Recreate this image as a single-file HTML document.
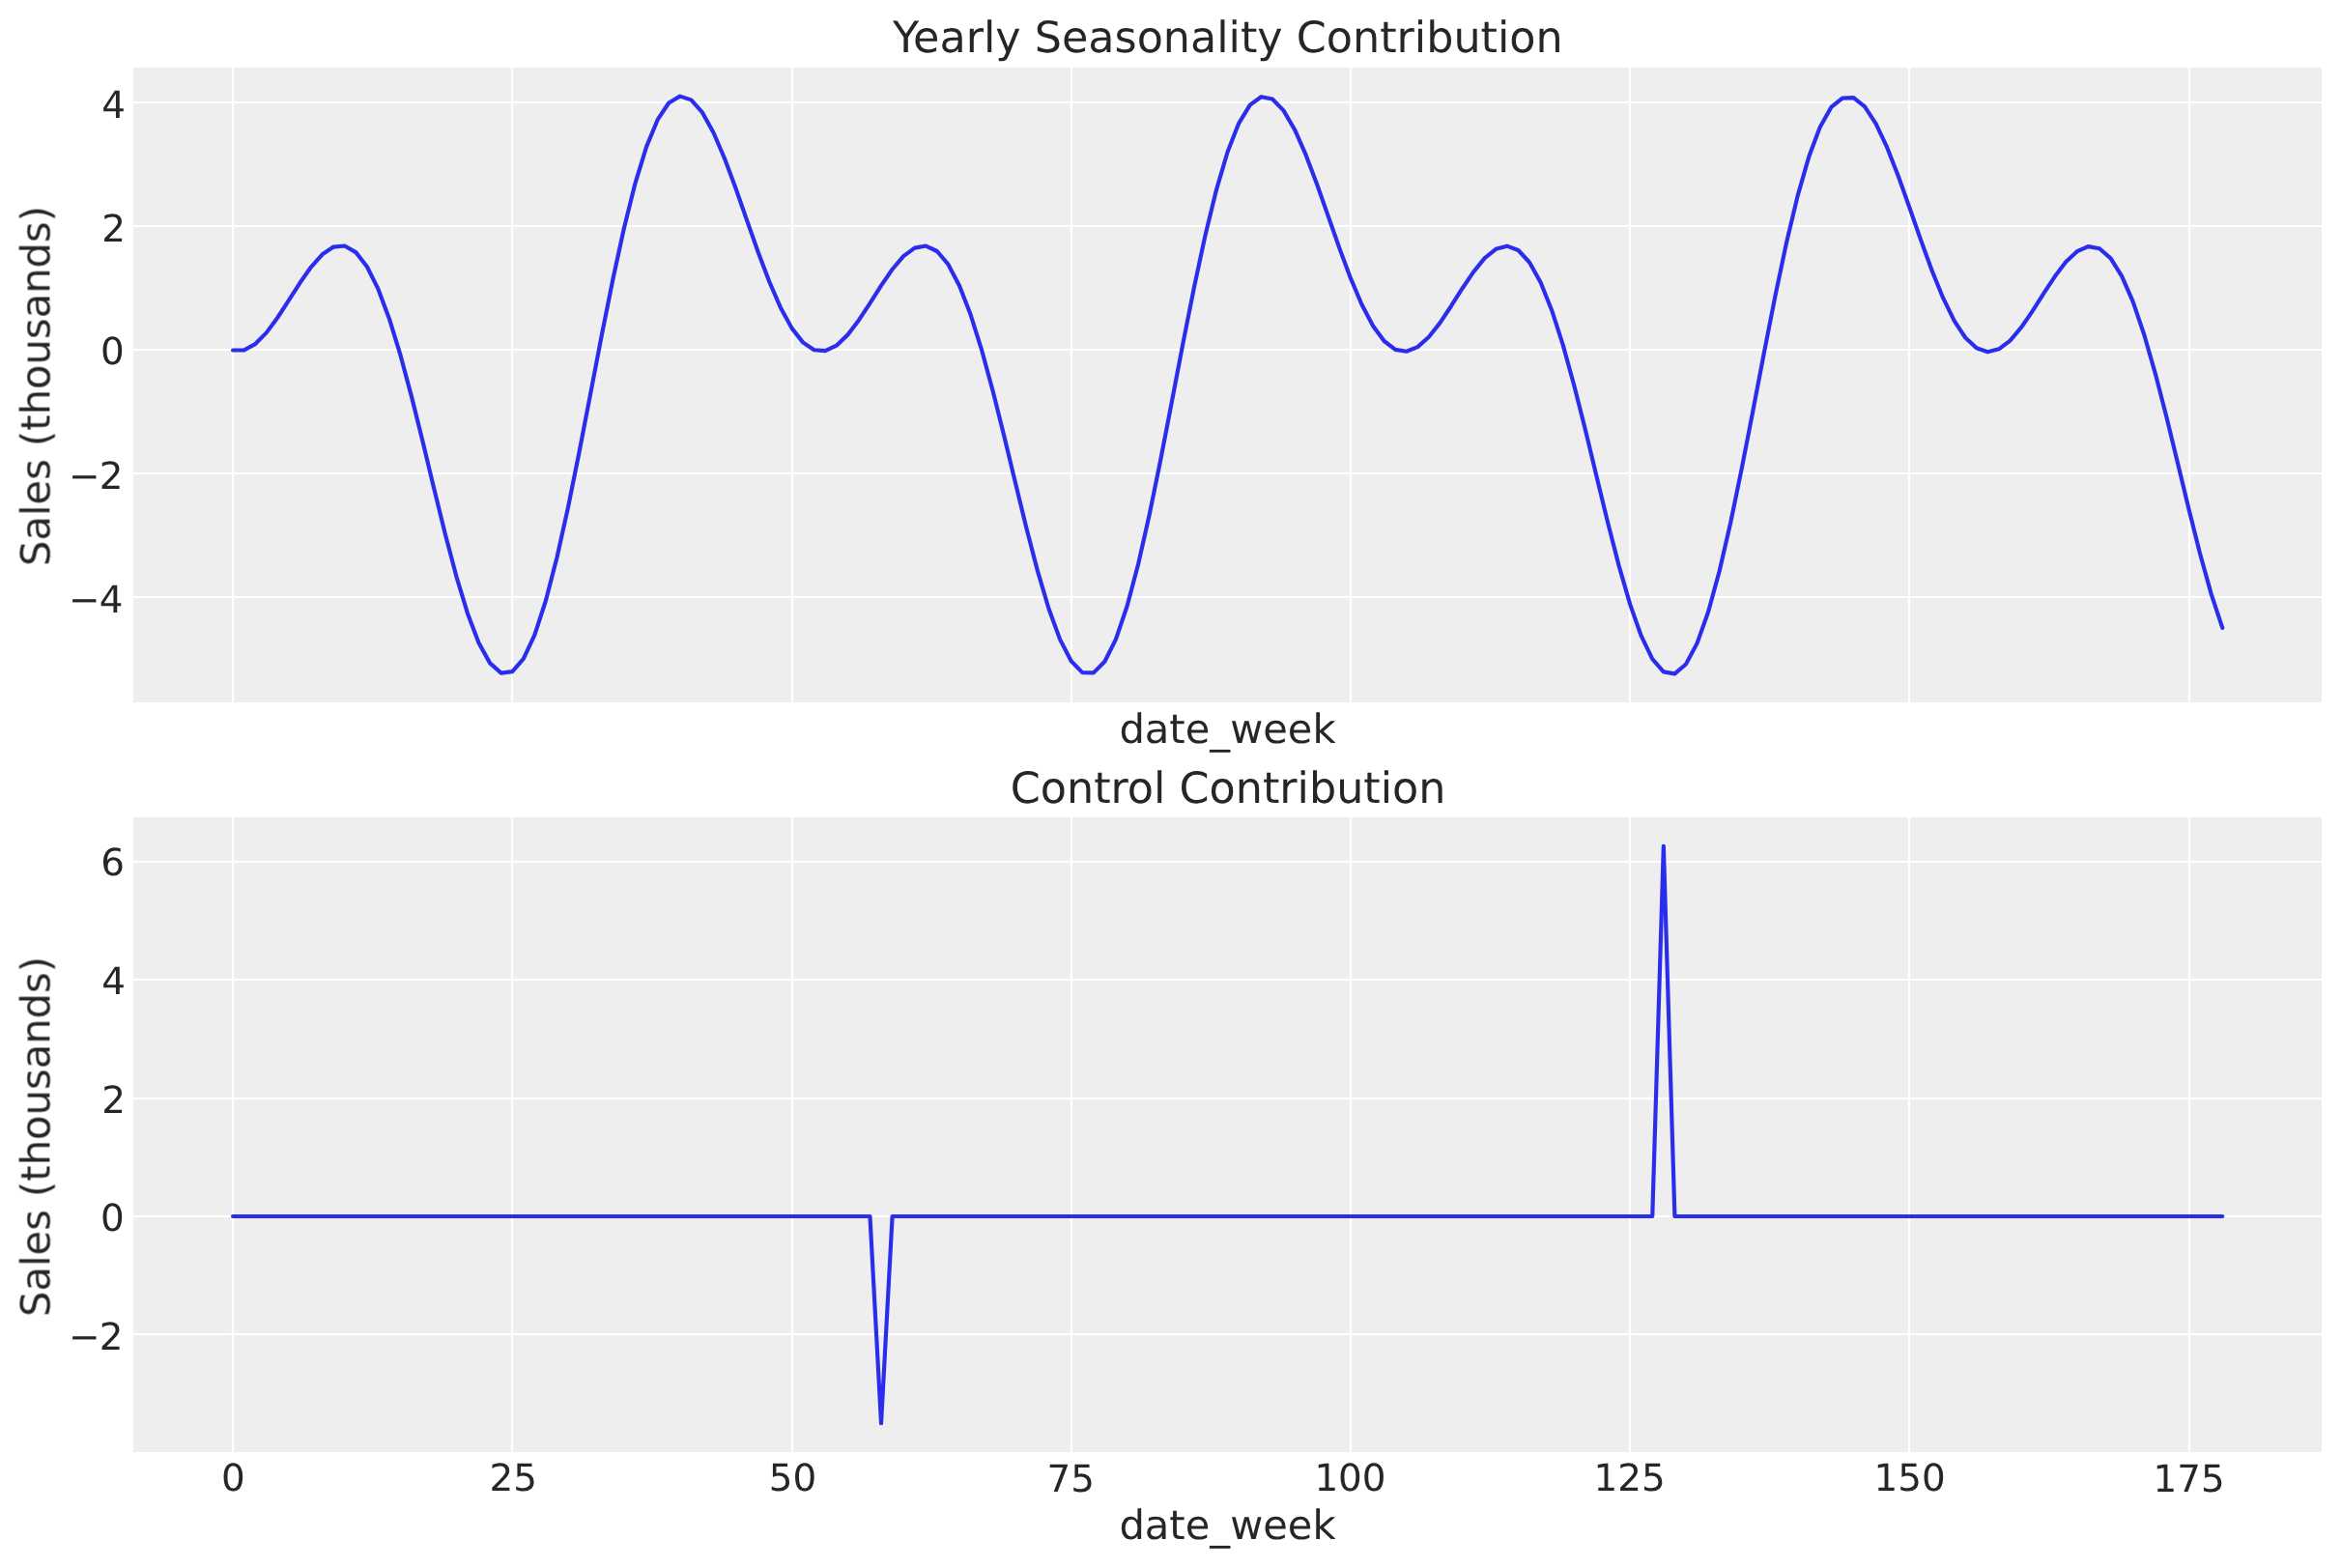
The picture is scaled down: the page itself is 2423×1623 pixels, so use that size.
<!DOCTYPE html>
<html lang="en"><head><meta charset="utf-8"><title>Yearly Seasonality and Control Contribution</title>
<style>html,body{margin:0;padding:0;background:#fff}body{width:2423px;height:1623px;overflow:hidden}svg{display:block;will-change:transform}text{font-family:"DejaVu Sans","Liberation Sans",sans-serif;fill:#262626;text-rendering:geometricPrecision}.t{font-size:44.44px;text-anchor:middle}.l{font-size:41.67px;text-anchor:middle}.k{font-size:38.89px}.y{text-anchor:end}.x{text-anchor:middle}.g{stroke:#fff;stroke-width:2.22;fill:none}.c{stroke:#2a2eec;stroke-width:4.17;fill:none;stroke-linecap:round;stroke-linejoin:round}</style></head><body>
<svg width="2423" height="1623" viewBox="0 0 2423 1623">
<rect width="2423" height="1623" fill="#fff"/>
<g id="ax1">
<rect x="138" y="70" width="2265" height="657" fill="#eeeeee"/>
<path class="g" d="M241 70V727M530 70V727M820 70V727M1109 70V727M1398 70V727M1687 70V727M1976 70V727M2266 70V727M138 106H2403M138 234H2403M138 362H2403M138 490H2403M138 618H2403"/>
<polyline class="c" points="241.04,362.5 252.61,362.45 264.18,356.07 275.75,344.37 287.31,328.75 298.88,310.93 310.45,292.78 322.02,276.27 333.59,263.3 345.16,255.57 356.73,254.51 368.3,261.14 379.86,276.01 391.43,299.18 403,330.16 414.57,367.97 426.14,411.14 437.71,457.83 449.28,505.89 460.85,553 472.41,596.78 483.98,634.94 495.55,665.4 507.12,686.38 518.69,696.58 530.26,695.16 541.83,681.87 553.39,657.03 564.96,621.52 576.53,576.75 588.1,524.59 599.67,467.24 611.24,407.15 622.81,346.91 634.38,289.03 645.94,235.9 657.51,189.61 669.08,151.88 680.65,123.94 692.22,106.49 703.79,99.62 715.36,103.39 726.93,116.41 738.49,137.3 750.06,164.28 761.63,195.35 773.2,228.37 784.77,261.19 796.34,291.79 807.91,318.4 819.47,339.61 831.04,354.39 842.61,362.25 854.18,363.17 865.75,357.64 877.32,346.62 888.89,331.46 900.46,313.84 912.02,295.62 923.59,278.76 935.16,265.17 946.73,256.6 958.3,254.51 969.87,260 981.44,273.67 993.01,295.67 1004.57,325.59 1016.14,362.5 1027.71,405.01 1039.28,451.33 1050.85,499.33 1062.42,546.72 1073.99,591.12 1085.56,630.22 1097.12,661.89 1108.69,684.32 1120.26,696.12 1131.83,696.39 1143.4,684.79 1154.97,661.56 1166.54,627.5 1178.1,583.95 1189.67,532.71 1201.24,475.96 1212.81,416.11 1224.38,355.73 1235.95,297.36 1247.52,243.41 1259.09,196.04 1270.65,157 1282.22,127.6 1293.79,108.63 1305.36,100.21 1316.93,102.56 1328.5,114.34 1340.07,134.2 1351.64,160.43 1363.2,191.05 1374.77,223.92 1386.34,256.89 1397.91,287.93 1409.48,315.21 1421.05,337.25 1432.62,353 1444.18,361.86 1455.75,363.75 1467.32,359.1 1478.89,348.79 1490.46,334.12 1502.03,316.74 1513.6,298.49 1525.17,281.31 1536.73,267.14 1548.3,257.76 1559.87,254.67 1571.44,259.02 1583.01,271.51 1594.58,292.33 1606.15,321.16 1617.72,357.15 1629.28,398.96 1640.85,444.86 1652.42,492.76 1663.99,540.38 1675.56,585.36 1687.13,625.35 1698.7,658.2 1710.26,682.04 1721.83,695.43 1733.4,697.38 1744.97,687.48 1756.54,665.87 1768.11,633.29 1779.68,590.99 1791.25,540.73 1802.81,484.62 1814.38,425.05 1825.95,364.59 1837.52,305.78 1849.09,251.07 1860.66,202.63 1872.23,162.31 1883.8,131.48 1895.36,110.99 1906.93,101.7 1918.5,101.18 1930.07,110.38 1941.64,128.1 1953.21,152.7 1964.78,182.28 1976.35,214.73 1987.91,247.89 1999.48,279.67 2011.05,308.19 2022.62,331.86 2034.19,349.49 2045.76,360.35 2057.33,364.21 2068.89,361.35 2080.46,352.54 2092.03,338.97 2103.6,322.18 2115.17,303.98 2126.74,286.3 2138.31,271.08 2149.88,260.16 2161.44,255.14 2173.01,257.27 2184.58,267.39 2196.15,285.85 2207.72,312.45 2219.29,346.51 2230.86,386.82 2242.43,431.75 2253.99,479.3 2265.56,527.24 2277.13,573.22 2288.7,614.86 2300.27,649.96"/>
</g>
<g id="ax2">
<rect x="138" y="846" width="2265" height="657" fill="#eeeeee"/>
<path class="g" d="M241 846V1503M530 846V1503M820 846V1503M1109 846V1503M1398 846V1503M1687 846V1503M1976 846V1503M2266 846V1503M138 892H2403M138 1014H2403M138 1137H2403M138 1259H2403M138 1381H2403"/>
<polyline class="c" points="241.04,1259.03 900.46,1259.03 912.02,1473.1 923.59,1259.03 1710.26,1259.03 1721.83,875.9 1733.4,1259.03 2300.27,1259.03"/>
</g>
<g id="labels" opacity="0.999">
<text id="title1" class="t" x="1270.8" y="54">Yearly Seasonality Contribution</text>
<text id="title2" class="t" x="1271.1" y="831">Control Contribution</text>
<text id="xlabel1" class="l" x="1270.5" y="769">date_week</text>
<text id="xlabel2" class="l" x="1270.5" y="1593">date_week</text>
<text id="ylabel1" class="l" transform="translate(51.4 399.55) rotate(-90)">Sales (thousands)</text>
<text id="ylabel2" class="l" transform="translate(51.4 1176.5) rotate(-90)">Sales (thousands)</text>
<text id="y1_0" class="k y" x="129.9" y="122">4</text>
<text id="y1_1" class="k y" x="129.9" y="250">2</text>
<text id="y1_2" class="k y" x="128.7" y="376.9">0</text>
<text id="y1_3" class="k y" x="127.45" y="506">−<tspan dx="-0.8">2</tspan></text>
<text id="y1_4" class="k y" x="127.4" y="634">−<tspan dx="-0.8">4</tspan></text>
<text id="y2_0" class="k y" x="129" y="905.8">6</text>
<text id="y2_1" class="k y" x="129.9" y="1029">4</text>
<text id="y2_2" class="k y" x="129.9" y="1152">2</text>
<text id="y2_3" class="k y" x="128.7" y="1273.8">0</text>
<text id="y2_4" class="k y" x="127.45" y="1397">−<tspan dx="-0.8">2</tspan></text>
<text id="x_0" class="k x" x="241.39" y="1543">0</text>
<text id="x_1" class="k x" x="531.22" y="1543">25</text>
<text id="x_2" class="k x" x="820.46" y="1543">50</text>
<text id="x_3" class="k x" x="1108.23" y="1544">75</text>
<text id="x_4" class="k x" x="1397.5" y="1543">100</text>
<text id="x_5" class="k x" x="1686.56" y="1543">125</text>
<text id="x_6" class="k x" x="1976.65" y="1543">150</text>
<text id="x_7" class="k x" x="2265.57" y="1544">175</text>
</g>
</svg></body></html>
